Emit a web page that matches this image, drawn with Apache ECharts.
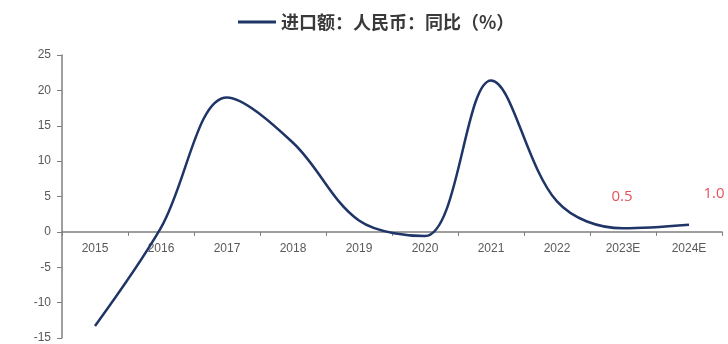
<!DOCTYPE html>
<html><head><meta charset="utf-8">
<script src="https://cdn.jsdelivr.net/npm/echarts@6/dist/echarts.min.js"></script>
<style>html,body{margin:0;padding:0;background:#fff}#c{width:728px;height:344px}</style>
</head><body><div id="c"></div>
<script>
const categories = ['2015','2016','2017','2018','2019','2020','2021','2022','2023E','2024E'];
const importYoY = [-13.3, 0.6, 19.0, 12.6, 1.6, -0.6, 21.4, 4.3, 0.5, 1.0];
const labelledIdx = [8, 9];
const seriesName = '进口额：人民币：同比（%）';

const chart = echarts.init(document.getElementById('c'));
const data = importYoY.map((v, i) => {
  if (!labelledIdx.includes(i)) return v;
  return {
    value: v,
    label: {
      show: true,
      formatter: v.toFixed(1),
      color: '#E8505B',
      fontSize: 15,
      fontFamily: '"Open Sans", sans-serif',
      position: 'top',
      offset: i === 9 ? [25, -19] : [-1, -19]
    }
  };
});
chart.setOption({
  animation: false,
  legend: {
    top: 8, left: 233,
    icon: 'rect', itemWidth: 38, itemHeight: 3, itemGap: 6,
    textStyle: { fontSize: 18, fontWeight: 'bold', color: '#3a3a3a', fontFamily: '"Noto Sans CJK SC", sans-serif' },
    data: [seriesName]
  },
  grid: { left: 62, right: 6, top: 55, bottom: 6, outerBoundsMode: 'none', containLabel: false },
  xAxis: {
    type: 'category', data: categories, boundaryGap: true,
    axisLine: { onZero: true, lineStyle: { color: '#7f7f7f', width: 1.5 } },
    axisTick: { show: true, length: 4, lineStyle: { color: '#7f7f7f' } },
    axisLabel: { color: '#595959', fontSize: 12, margin: -95, fontFamily: 'Arial, "Liberation Sans", sans-serif' }
  },
  yAxis: {
    type: 'value', min: -15, max: 25, interval: 5,
    splitLine: { show: false },
    axisLine: { show: true, onZero: false, lineStyle: { color: '#7f7f7f', width: 1.5 } },
    axisTick: { show: true, length: 5, lineStyle: { color: '#7f7f7f' } },
    axisLabel: { color: '#595959', fontSize: 12, margin: 11, fontFamily: 'Arial, "Liberation Sans", sans-serif' }
  },
  series: [{
    name: seriesName, type: 'line', data: data, smooth: 0.35,
    symbol: 'circle', symbolSize: 0, showSymbol: true,
    lineStyle: { color: '#1F3467', width: 2.5 },
    itemStyle: { color: '#1F3467' }
  }]
});
</script></body></html>
